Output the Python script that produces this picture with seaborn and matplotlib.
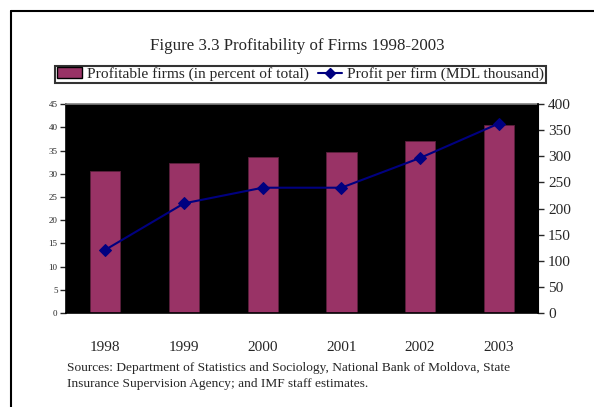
import matplotlib
matplotlib.use("Agg")
import matplotlib.pyplot as plt
from matplotlib.lines import Line2D
from matplotlib.patches import Patch
import seaborn as sns
import pandas as pd

years = ["1998", "1999", "2000", "2001", "2002", "2003"]
profitable_pct = [30.6, 32.4, 33.7, 34.6, 37.1, 40.6]
profit_per_firm = [121, 210, 240, 240, 297, 363]

bar_label = "Profitable firms (in percent of total)"
line_label = "Profit per firm (MDL thousand)"
title = "Figure 3.3 Profitability of Firms 1998-2003"
source = ("Sources: Department of Statistics and Sociology, National Bank of Moldova, State\n"
          "Insurance Supervision Agency; and IMF staff estimates.")

sns.set_style("white")
plt.rcParams["font.family"] = ["Liberation Serif", "DejaVu Serif"]

df = pd.DataFrame({"year": years, "pct": profitable_pct, "profit": profit_per_firm})

fig = plt.figure(figsize=(5.94, 4.07), dpi=100)
ax = fig.add_axes([0.111, 0.231, 0.795, 0.513])
ax.set_facecolor("black")

sns.barplot(data=df, x="year", y="pct", color="#993366", width=0.385,
            edgecolor="#5a1f3c", linewidth=0.6, saturation=1, ax=ax)
ax.set_xlim(-0.5, 5.5)
ax.set_ylim(0, 45)
ax.set_yticks(range(0, 46, 5))
ax.tick_params(axis="y", labelsize=6.5, length=4, width=1, direction="out", pad=2)
ax.set_xticks([x - 0.5 for x in range(7)], minor=False)
ax.set_xticklabels([""] * 7)
ax.set_xticks(range(6), minor=True)
ax.set_xticklabels(years, minor=True, fontsize=11)
ax.tick_params(axis="x", which="major", length=4, width=1, direction="out")
ax.tick_params(axis="x", which="minor", length=0, pad=20)
ax.set_xlabel("")
ax.set_ylabel("")
for s in ["left", "bottom"]:
    ax.spines[s].set_color("black")
    ax.spines[s].set_linewidth(1.2)
ax.spines["top"].set_color("#808080")
ax.spines["top"].set_linewidth(1.2)
ax.spines["right"].set_color("black")

ax2 = ax.twinx()
sns.lineplot(data=df, x="year", y="profit", color="#000080", marker="D",
             markersize=6, markeredgecolor="#000080", linewidth=1.5, ax=ax2)
ax2.set_ylim(0, 400)
ax2.set_yticks(range(0, 401, 50))
ax2.tick_params(axis="y", labelsize=11, length=4, width=1, direction="out", pad=3)
ax2.set_ylabel("")
ax2.set_xlabel("")
ax2.spines["right"].set_color("black")
ax2.spines["right"].set_linewidth(1.2)
ax2.spines["top"].set_visible(False)
ax2.spines["left"].set_visible(False)
ax2.spines["bottom"].set_visible(False)
ax.set_xlim(-0.5, 5.5)

fig.text(0.5, 0.887, title, ha="center", va="center", fontsize=12.2)

handles = [Patch(facecolor="#993366", edgecolor="black", linewidth=1),
           Line2D([], [], color="#000080", marker="D", markersize=5, linewidth=1.5)]
leg = fig.legend(handles, [bar_label, line_label], loc="center",
                 bbox_to_anchor=(0.506, 0.817), ncol=2, fontsize=11.1,
                 frameon=True, fancybox=False, edgecolor="black",
                 handlelength=1.6, handletextpad=0.3, columnspacing=0.6,
                 borderpad=0.12, borderaxespad=0)
leg.get_frame().set_linewidth(1.5)

fig.text(0.113, 0.075, source, ha="left", va="center", fontsize=9.6, linespacing=1.45)

# outer frame (top and left edges)
fig.add_artist(Line2D([0.018, 1.0], [0.973, 0.973], color="black", linewidth=1.5,
                      transform=fig.transFigure))
fig.add_artist(Line2D([0.018, 0.018], [0.0, 0.973], color="black", linewidth=1.5,
                      transform=fig.transFigure))

fig.savefig("out.png", dpi=100)
